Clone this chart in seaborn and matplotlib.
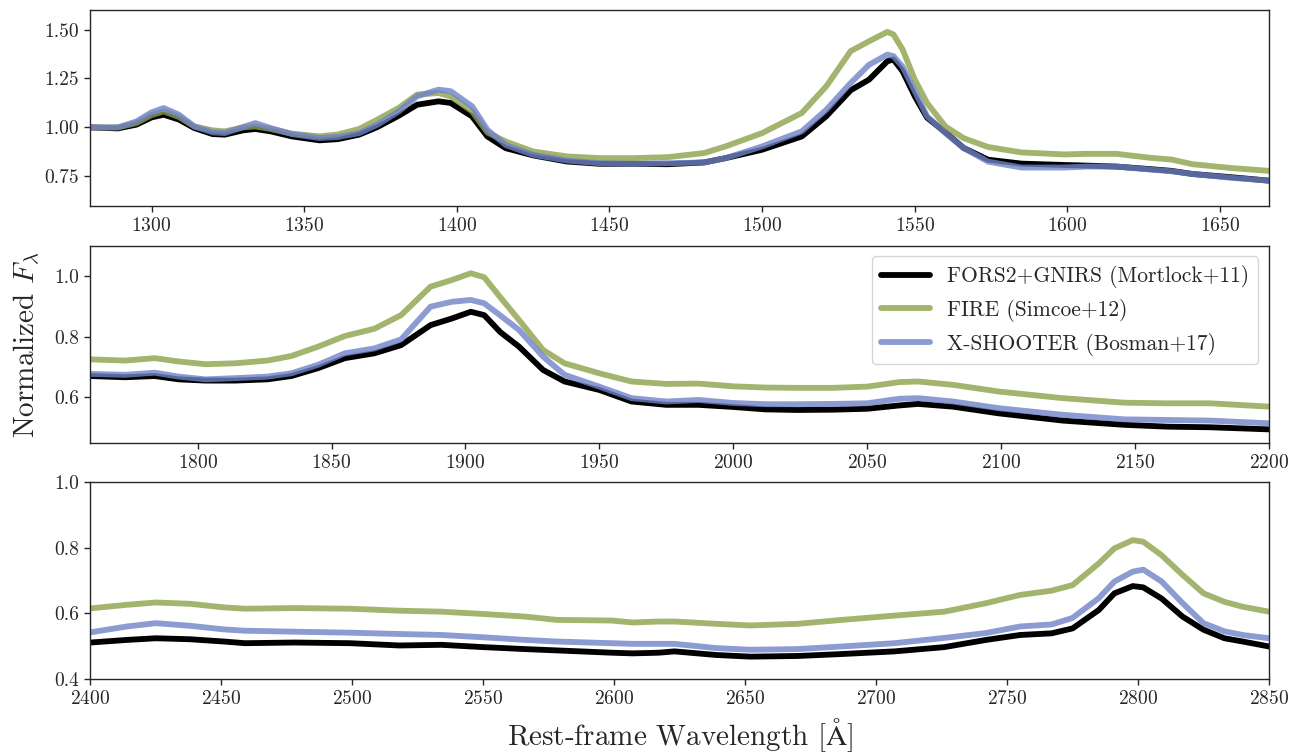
import matplotlib
matplotlib.use("Agg")
import matplotlib.pyplot as plt
import seaborn as sns
import numpy as np

# ---------------- data ----------------
labels = ["FORS2+GNIRS (Mortlock+11)", "FIRE (Simcoe+12)", "X-SHOOTER (Bosman+17)"]

# Panel 1 : 1280 - 1666 A
wave1 = [1280, 1289, 1295, 1300, 1304, 1309, 1314, 1320, 1324, 1330, 1334, 1339, 1346,
         1355, 1361, 1368, 1374, 1381, 1387, 1394, 1398, 1405, 1410, 1416, 1425, 1436,
         1447, 1458, 1469, 1481, 1488, 1500, 1513, 1521, 1529, 1535, 1541, 1543, 1546,
         1550, 1554, 1560, 1566, 1574, 1585, 1599, 1606, 1616, 1627, 1634, 1641, 1654, 1666]
fors1 = [1.000, 0.995, 1.014, 1.051, 1.065, 1.040, 0.997, 0.966, 0.963, 0.985, 0.992, 0.980, 0.954,
         0.934, 0.940, 0.963, 1.002, 1.060, 1.116, 1.133, 1.125, 1.056, 0.954, 0.894, 0.857, 0.826,
         0.814, 0.814, 0.812, 0.821, 0.843, 0.886, 0.954, 1.057, 1.190, 1.244, 1.338, 1.347, 1.287,
         1.159, 1.050, 0.975, 0.895, 0.835, 0.815, 0.808, 0.805, 0.800, 0.787, 0.778, 0.762, 0.745, 0.728]
fire1 = [1.000, 1.000, 1.022, 1.063, 1.082, 1.053, 1.005, 0.985, 0.980, 1.000, 1.005, 0.992, 0.968,
         0.954, 0.964, 0.992, 1.040, 1.100, 1.168, 1.176, 1.159, 1.082, 0.974, 0.928, 0.877, 0.852,
         0.843, 0.843, 0.848, 0.869, 0.903, 0.971, 1.074, 1.210, 1.390, 1.440, 1.488, 1.475, 1.398,
         1.244, 1.125, 1.005, 0.945, 0.900, 0.872, 0.862, 0.865, 0.865, 0.845, 0.836, 0.812, 0.792, 0.778]
xsh1 = [1.000, 1.000, 1.030, 1.077, 1.099, 1.065, 1.005, 0.975, 0.971, 1.002, 1.022, 0.997, 0.966,
        0.946, 0.951, 0.971, 1.014, 1.082, 1.159, 1.193, 1.185, 1.108, 0.988, 0.910, 0.860, 0.831,
        0.817, 0.814, 0.817, 0.821, 0.843, 0.903, 0.980, 1.090, 1.227, 1.320, 1.372, 1.364, 1.310,
        1.185, 1.057, 0.971, 0.895, 0.825, 0.795, 0.795, 0.800, 0.800, 0.785, 0.776, 0.762, 0.742, 0.728]

# Panel 2 : 1760 - 2200 A
wave2 = [1760, 1773, 1784, 1793, 1803, 1814, 1826, 1835, 1845, 1855, 1866, 1876, 1887, 1895,
         1902, 1907, 1913, 1920, 1929, 1937, 1950, 1962, 1975, 1987, 2000, 2012, 2024, 2037,
         2050, 2062, 2069, 2082, 2099, 2123, 2146, 2162, 2178, 2200]
fors2 = [0.670, 0.666, 0.670, 0.659, 0.655, 0.655, 0.659, 0.670, 0.696, 0.729, 0.745, 0.772, 0.838, 0.860,
         0.882, 0.871, 0.815, 0.767, 0.690, 0.652, 0.624, 0.586, 0.575, 0.575, 0.568, 0.560, 0.558, 0.559,
         0.562, 0.573, 0.578, 0.569, 0.547, 0.523, 0.509, 0.503, 0.501, 0.494]
fire2 = [0.725, 0.721, 0.729, 0.718, 0.709, 0.712, 0.721, 0.736, 0.767, 0.802, 0.826, 0.871, 0.965, 0.987,
         1.009, 0.996, 0.930, 0.855, 0.756, 0.712, 0.679, 0.652, 0.644, 0.645, 0.636, 0.632, 0.631, 0.631,
         0.635, 0.650, 0.652, 0.641, 0.619, 0.597, 0.582, 0.580, 0.580, 0.569]
xsh2 = [0.677, 0.674, 0.681, 0.668, 0.659, 0.663, 0.668, 0.679, 0.707, 0.745, 0.761, 0.791, 0.899, 0.915,
        0.921, 0.910, 0.870, 0.822, 0.734, 0.674, 0.635, 0.597, 0.586, 0.591, 0.581, 0.577, 0.577, 0.578,
        0.580, 0.595, 0.597, 0.586, 0.564, 0.542, 0.527, 0.525, 0.523, 0.514]

# Panel 3 : 2400 - 2850 A
wave3 = [2400, 2414, 2425, 2438, 2451, 2459, 2478, 2499, 2518, 2534, 2550, 2566, 2578, 2599,
         2607, 2617, 2623, 2639, 2652, 2670, 2687, 2707, 2726, 2742, 2755, 2767, 2775, 2785,
         2791, 2798, 2802, 2809, 2817, 2825, 2833, 2840, 2850]
fors3 = [0.511, 0.519, 0.524, 0.521, 0.514, 0.509, 0.511, 0.509, 0.502, 0.504, 0.497, 0.491, 0.487, 0.480,
         0.478, 0.480, 0.484, 0.473, 0.468, 0.470, 0.476, 0.484, 0.497, 0.519, 0.534, 0.539, 0.554, 0.610,
         0.661, 0.683, 0.679, 0.645, 0.590, 0.550, 0.524, 0.514, 0.499]
fire3 = [0.615, 0.626, 0.633, 0.629, 0.618, 0.614, 0.616, 0.614, 0.608, 0.605, 0.598, 0.590, 0.580, 0.578,
         0.572, 0.575, 0.575, 0.568, 0.563, 0.568, 0.580, 0.593, 0.605, 0.631, 0.656, 0.669, 0.686, 0.752,
         0.798, 0.823, 0.818, 0.777, 0.717, 0.661, 0.635, 0.620, 0.605]
xsh3 = [0.542, 0.560, 0.570, 0.562, 0.551, 0.547, 0.544, 0.541, 0.537, 0.534, 0.527, 0.519, 0.514, 0.509,
        0.507, 0.507, 0.507, 0.494, 0.489, 0.491, 0.499, 0.509, 0.525, 0.540, 0.560, 0.566, 0.586, 0.646,
        0.697, 0.727, 0.733, 0.697, 0.631, 0.570, 0.545, 0.534, 0.524]

xticks1 = [1300, 1350, 1400, 1450, 1500, 1550, 1600, 1650]
xticks2 = [1800, 1850, 1900, 1950, 2000, 2050, 2100, 2150, 2200]
xticks3 = [2400, 2450, 2500, 2550, 2600, 2650, 2700, 2750, 2800, 2850]
yticks1 = [0.75, 1.00, 1.25, 1.50]
yticks2 = [0.6, 0.8, 1.0]
yticks3 = [0.4, 0.6, 0.8, 1.0]

# ---------------- style ----------------
sns.set_style("ticks")
plt.rcParams["font.family"] = ["cmr10", "DejaVu Serif"]
plt.rcParams["mathtext.fontset"] = "cm"
plt.rcParams["axes.formatter.use_mathtext"] = True
plt.rcParams["axes.unicode_minus"] = False

colors = ["#000000", "#8ca14b", "#6f82c7"]
alphas = [1.0, 0.8, 0.8]
LW = 4.2

fig = plt.figure(figsize=(13.05, 7.56), dpi=100)
left, width = 0.0693, 0.9031
ax1 = fig.add_axes([left, 0.7279, width, 0.2589])
ax2 = fig.add_axes([left, 0.4144, width, 0.2606])
ax3 = fig.add_axes([left, 0.1019, width, 0.2605])

panels = [
    (ax1, wave1, [fors1, fire1, xsh1], (1280, 1666), (0.6, 1.6), xticks1, yticks1, False),
    (ax2, wave2, [fors2, fire2, xsh2], (1760, 2200), (0.45, 1.1), xticks2, yticks2, True),
    (ax3, wave3, [fors3, fire3, xsh3], (2400, 2850), (0.4, 1.0), xticks3, yticks3, False),
]

for ax, w, series, xl, yl, xt, yt, leg in panels:
    for s, c, a, lab in zip(series, colors, alphas, labels):
        sns.lineplot(x=w, y=s, ax=ax, color=c, alpha=a, lw=LW,
                     label=lab if leg else None, legend=False)
    ax.set_xlim(*xl)
    ax.set_ylim(*yl)
    ax.set_xticks(xt)
    ax.set_yticks(yt)
    ax.tick_params(labelsize=14, length=4.5, width=1)
    for sp in ax.spines.values():
        sp.set_linewidth(1.0)

ax1.yaxis.set_major_formatter(matplotlib.ticker.FormatStrFormatter("%.2f"))
ax2.yaxis.set_major_formatter(matplotlib.ticker.FormatStrFormatter("%.1f"))
ax3.yaxis.set_major_formatter(matplotlib.ticker.FormatStrFormatter("%.1f"))

ax2.legend(loc="upper right", fontsize=15.5, handlelength=2.3, frameon=True,
           fancybox=True, framealpha=0.8, edgecolor="#cccccc")
ax2.set_ylabel(r"Normalized $F_\lambda$", fontsize=21, labelpad=8)
ax3.set_xlabel(r"Rest-frame Wavelength [$\mathrm{\AA}$]", fontsize=21, labelpad=6)

fig.savefig("out.png", dpi=100)
